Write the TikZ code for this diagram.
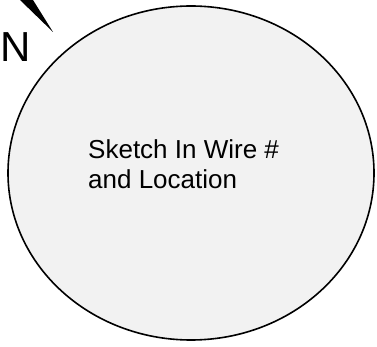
\documentclass[tikz,border=0pt]{standalone}
\usepackage{fontspec}
\setmainfont{Liberation Sans}
\usetikzlibrary{shapes.geometric}
\definecolor{sketchgray}{HTML}{F2F2F2}
\tikzset{
	sketcharea/.style={ellipse, draw=black, line width=1.6pt, fill=sketchgray, inner sep=0pt},
	notetext/.style={inner sep=0pt, align=left, font=\fontsize{26}{30}\selectfont}
}

\begin{document}
\begin{tikzpicture}[x=1pt, y=-1pt]
	\useasboundingbox (0, 0) rectangle (377, 347);
	\node[sketcharea, minimum width=366pt, minimum height=334pt](Area) at (191, 173){};
	\node[notetext, anchor=north west](Note) at (88, 139){Sketch In Wire \#\\and Location};
	\fill (20, 0) -- (33, 0) -- (53, 32) -- cycle;
	\node[inner sep=0pt, anchor=base west, font=\fontsize{42}{42}\selectfont](North) at (0, 62){N};
\end{tikzpicture}
\end{document}
